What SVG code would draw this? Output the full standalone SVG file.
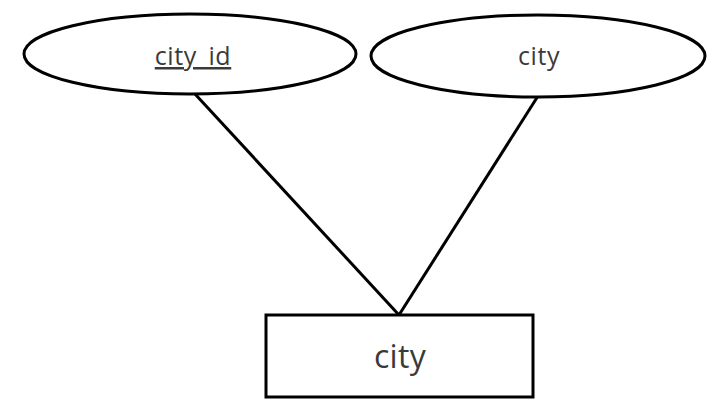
<svg xmlns="http://www.w3.org/2000/svg" width="712" height="407" viewBox="0 0 712 407">
  <style>
    .shape { fill: #ffffff; stroke: #000000; stroke-width: 3; }
    .edge { stroke: #000000; stroke-width: 3; fill: none; }
    .label { font-family: "Open Sans", "Liberation Sans", sans-serif; fill: #3a3a3a; text-anchor: middle; }
    .attr { font-size: 25px; letter-spacing: 0.6px; }
    .entity { font-size: 32px; letter-spacing: 0.3px; }
  </style>
  <rect width="712" height="407" fill="#ffffff"/>
  <g id="connectors">
    <line class="edge" x1="195" y1="94" x2="399" y2="315"/>
    <line class="edge" x1="538" y1="96" x2="399" y2="315"/>
  </g>
  <g id="attr-city-id">
    <ellipse class="shape" cx="190" cy="54" rx="166" ry="40"/>
    <text class="label attr" x="193" y="65" text-decoration="underline">city_id</text>
  </g>
  <g id="attr-city">
    <ellipse class="shape" cx="538" cy="56" rx="167" ry="41"/>
    <text class="label attr" x="539" y="65">city</text>
  </g>
  <g id="entity-city">
    <rect class="shape" x="266" y="315" width="267" height="82"/>
    <text class="label entity" x="400" y="368">city</text>
  </g>
</svg>
